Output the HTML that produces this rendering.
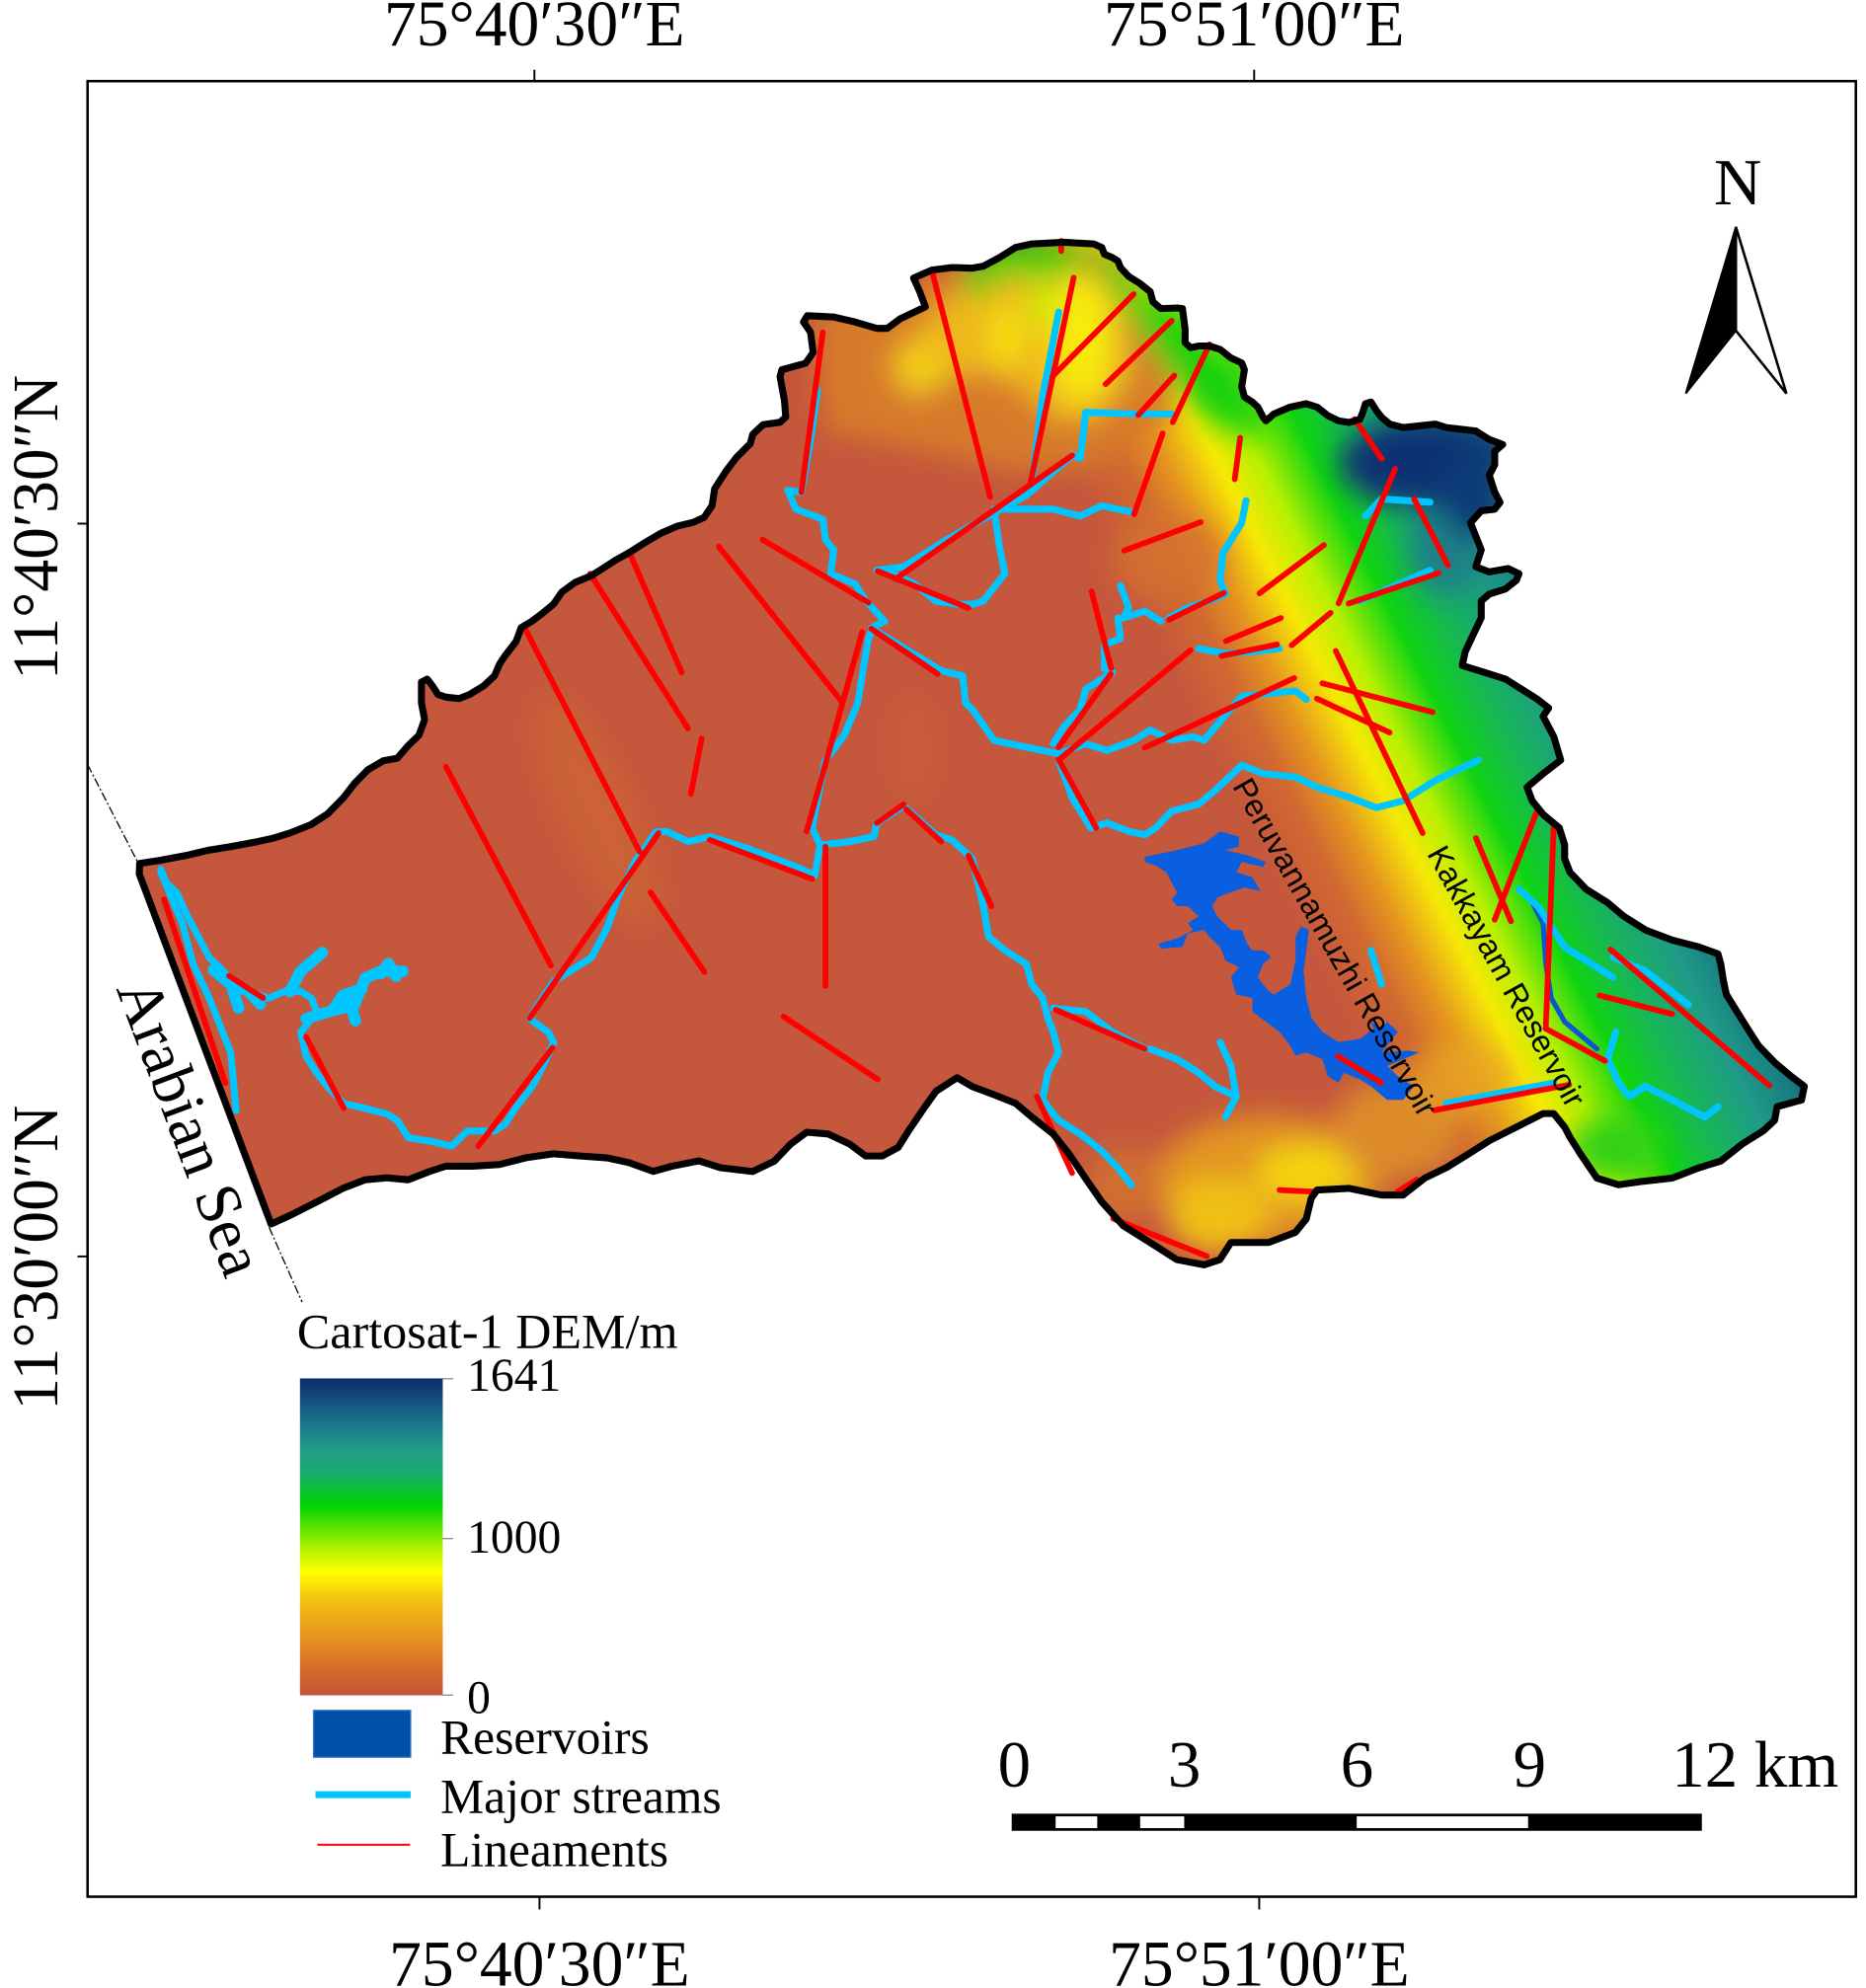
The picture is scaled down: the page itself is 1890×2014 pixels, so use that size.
<!DOCTYPE html>
<html><head><meta charset="utf-8"><style>
html,body{margin:0;padding:0;background:#fff;}
svg{display:block;}
</style></head><body>
<svg width="1890" height="2014" viewBox="0 0 1470 1568" preserveAspectRatio="none" xmlns="http://www.w3.org/2000/svg">
<defs>
<linearGradient id="elev" gradientUnits="userSpaceOnUse" x1="500.6" y1="-250.3" x2="804.6" y2="-402.3">
<stop offset="0" stop-color="#c5573d"/>
<stop offset="0.088" stop-color="#c5573d"/>
<stop offset="0.206" stop-color="#d26a30"/>
<stop offset="0.294" stop-color="#e5961f"/>
<stop offset="0.397" stop-color="#f7e806"/>
<stop offset="0.485" stop-color="#b8f000"/>
<stop offset="0.603" stop-color="#10d412"/>
<stop offset="0.721" stop-color="#18b55a"/>
<stop offset="0.838" stop-color="#1f9a88"/>
<stop offset="0.941" stop-color="#177a80"/>
<stop offset="1" stop-color="#124f78"/>
</linearGradient>
<linearGradient id="cbar" x1="0" y1="0" x2="0" y2="1">
<stop offset="0" stop-color="#0c2a6e"/>
<stop offset="0.12" stop-color="#1a6a8a"/>
<stop offset="0.22" stop-color="#1f9a88"/>
<stop offset="0.30" stop-color="#1aac70"/>
<stop offset="0.40" stop-color="#00d400"/>
<stop offset="0.53" stop-color="#a8f000"/>
<stop offset="0.61" stop-color="#ffff00"/>
<stop offset="0.70" stop-color="#f2c010"/>
<stop offset="0.80" stop-color="#e99a20"/>
<stop offset="0.90" stop-color="#d87028"/>
<stop offset="1" stop-color="#c4553c"/>
</linearGradient>
<filter id="bl" filterUnits="userSpaceOnUse" x="0" y="0" width="1470" height="1568"><feGaussianBlur stdDeviation="11"/></filter>
<path id="bnd" d="M110,681 L126.6,678.5 147.8,674.5 164.7,670.5 181.7,667.8 203,663.8 215.6,661 228.4,657 245,650.4 258,642 270.7,629 279.2,618 290,607 302,600 313,598 321.6,588 330,580 334.5,567.6 332,554.4 332,538 336.5,535.6 340.7,541 345,547.7 351,549.8 361.7,551 370,547.7 381,541 389.6,533 393.6,523.6 398,517 406.5,506 410.6,495 419,490 427.6,483.5 436,476.6 442.6,467 453,459.4 466,454 474.5,448.6 485,441.8 495.5,436 508,428 521,420.4 533.6,415 546,412 554.8,408 561,398.7 563,385.5 571.7,372 580,361 591,350 593,342.6 601,335 614.5,333 619,329 618,316 614.5,297 616,291.6 634.6,286.5 640.6,278 638.5,262 633,254 636,249 656.5,250 673.6,254 690.6,259 699,259 709,251.5 729,242 724.5,230 719.7,219.3 734,213 750,211 766,211.5 774.7,209.9 787.3,203.2 800,195.2 812.8,192.4 838.2,191.1 861.6,192.4 868,195.2 870,200.5 876.4,203.2 880.6,205.8 882.8,211.2 889.1,218 897.6,223.3 906.1,230 908.2,238 914.5,243.4 927.3,242.9 931.5,243.4 933.6,259.5 933.6,270.2 937.9,274.2 944.2,272.9 952.7,272.9 961.2,275.6 969.7,282.3 978.2,286.3 980.3,291.6 978.2,305 980.3,313.1 986.6,317.1 990.9,321.1 995.1,329.2 997.3,331.9 1003.6,326.5 1016.3,321.1 1029,318.4 1037.6,321.1 1046,327.8 1054.5,331.9 1063,333.2 1071.4,330.6 1073.6,325.2 1075.7,318.4 1080,317.1 1084.2,323.8 1088.4,329.2 1094.8,334.5 1105.4,337.2 1118.1,335.9 1130.8,334.5 1139.3,337.2 1162.6,339.9 1173.2,346.6 1183.8,350.6 1177.5,356 1177.5,366.7 1173.2,374.8 1177.5,388.2 1181.7,396.2 1177.5,401.6 1166.9,402.9 1158.4,412.3 1162.6,423 1166.9,433.7 1162.6,447 1173.2,451.1 1188,448.4 1196.6,452.5 1194.5,457.8 1186,464.5 1173.2,468.6 1166.9,474 1166.9,487.3 1160.5,500.7 1154.2,514.1 1152,524.9 1169,530.2 1186,535.6 1198.7,543.6 1211.4,551.7 1220,558.4 1215.6,565 1224,581 1229.5,599.5 1215.6,610.2 1203,620.9 1207,631.6 1215.6,642.3 1228.4,653 1232.6,666.4 1232.6,677.2 1236.8,688 1249.6,701.4 1266.5,712 1279.3,722.8 1296.3,733.5 1317.4,741.5 1338.6,747 1353.4,752.3 1355.6,760.3 1357.7,773.7 1360,784.4 1368.3,797.8 1376.7,811.3 1385.3,824.7 1398,838 1410.7,848.7 1421.4,856.8 1419.2,867.6 1400,872.9 1398,883.6 1389.5,891.6 1372.6,902.3 1355.6,915.8 1338.6,921 1317.4,929.2 1292,932 1275,934.5 1258,929.2 1245.3,910.5 1236.8,897 1232.6,889 1224,878.3 1215.6,878.3 1194.5,889 1173.2,899.7 1156.3,910.5 1139.3,921 1122.4,929.2 1105.3,942.6 1088.4,942.6 1063,937.3 1037.6,938.6 1033,945 1029,961.4 1020.5,972 999.4,980 969.7,980 961,993.5 948.5,997.6 927,993.5 906,980 884.9,966.8 868,948 855,929.2 842.4,910.5 829.7,894.4 812.8,881 800,870.2 783,863.4 766,857 754,850 737.3,860.8 728.8,872.7 716,891.5 707.6,905 695,911.8 682,911.8 669.4,902.4 652.4,894.4 635.5,893 622.8,902.4 610,915.8 593,924 567.6,921 550.6,915.6 529.4,919.8 514.6,923.9 495.4,917 478.4,913.3 457.3,911.8 436,910 415,913 393.6,918.5 372.5,919.8 351.3,919.8 338.6,923.9 321.6,930.5 304.7,929 287.7,930.5 270.7,937 249.5,948 228.4,958.7 213.5,965.4 109.7,689.3 Z"/>
<clipPath id="clip"><use href="#bnd"/></clipPath>
</defs>

<rect x="0" y="0" width="1470" height="1568" fill="#fff"/>

<g clip-path="url(#clip)">
<rect x="0" y="0" width="1470" height="1568" fill="url(#elev)"/>
<g filter="url(#bl)">
<ellipse cx="470" cy="640" rx="30" ry="100" transform="rotate(-25 470 640)" fill="#cf6634" opacity="0.7"/>
<ellipse cx="720" cy="590" rx="22" ry="45" fill="#ca5f37" opacity="0.6"/>
<ellipse cx="920" cy="440" rx="45" ry="35" fill="#d4722e" opacity="0.8"/>
<polygon points="640,250 735,215 780,200 880,195 930,260 920,330 860,370 800,372 760,362 700,350 650,340" fill="#d77a2c"/>
<polygon points="750,232 800,215 860,212 885,240 892,300 862,332 830,330 800,302 770,292 742,300 712,310 702,282 722,262" fill="#eeb81c"/>
<ellipse cx="852" cy="268" rx="24" ry="50" fill="#f8ea08"/>
<ellipse cx="793" cy="265" rx="14" ry="24" fill="#f5e010"/>
<ellipse cx="724" cy="292" rx="18" ry="18" fill="#f2d012"/>
<ellipse cx="822" cy="240" rx="12" ry="16" fill="#c8f000"/>
<ellipse cx="812" cy="204" rx="45" ry="14" fill="#28d010"/>
<ellipse cx="772" cy="220" rx="12" ry="14" fill="#40d010"/>
<polygon points="866,192 890,215 910,235 935,245 950,270 975,285 990,315 1000,335 985,345 960,335 940,320 925,300 905,270 888,245 872,220 860,200" fill="#18d010"/>
<ellipse cx="1140" cy="430" rx="30" ry="40" fill="#1a8088"/>
<ellipse cx="1120" cy="365" rx="65" ry="35" fill="#0f3373"/>
<ellipse cx="1160" cy="390" rx="25" ry="35" fill="#103a78"/>
<ellipse cx="1000" cy="930" rx="90" ry="50" fill="#e29424"/>
<ellipse cx="960" cy="958" rx="40" ry="30" fill="#f0c018"/>
<ellipse cx="1030" cy="925" rx="40" ry="22" fill="#f4d410"/>
<ellipse cx="1100" cy="890" rx="50" ry="40" fill="#dc8a2a"/>
<ellipse cx="1150" cy="850" rx="40" ry="30" fill="#e8a822" opacity="0.7"/>
<ellipse cx="885" cy="935" rx="30" ry="30" fill="#d06e33"/>
<ellipse cx="1272" cy="905" rx="35" ry="25" fill="#30d018"/>
</g>
</g>

<polygon fill="#0a5fe0" points="901.8,675.9 927.3,670.5 948.5,665.1 961.2,655.7 976,659.8 976,667.8 965.4,670.5 982.4,674.5 997.3,679.9 995.1,683.9 978.2,679.9 973.9,687.9 986.6,691.9 993,702.7 980.3,700 965.4,705.3 959.1,708 954.8,714.7 959.1,722.8 969.7,733.5 978.2,733.5 982.4,744.2 986.6,749.6 995.1,749.6 1001.5,754.9 995.1,760.3 990.9,771 999.4,781.8 1003.6,784.4 1016.3,776.4 1020.6,757.6 1020.6,738.9 1024.8,730.8 1031.2,733.5 1029.1,749.6 1026.9,765.7 1029.1,787.1 1033.3,803.2 1041.8,813.9 1054.5,821.9 1071.5,819.3 1082.1,811.2 1079.9,805.9 1088.4,811.2 1092.7,805.9 1101.2,813.9 1092.7,824.6 1088.4,830 1109.6,828.7 1118.1,830 1105.4,835.4 1092.7,840.7 1101.2,848.8 1113.9,856.8 1105.4,867.5 1092.7,867.5 1080,856.8 1071.5,851.4 1058.7,846.1 1054.5,854.1 1046,848.8 1041.8,835.4 1029.1,830 1020.6,832.7 1016.3,824.6 1007.9,813.9 997.3,805.9 986.6,797.8 986.6,787.1 973.9,784.4 969.7,771 976,763 965.4,757.6 961.2,746.9 952.7,738.9 948.5,733.5 935.8,736.2 931.5,746.9 914.6,748.2 912.4,744.2 927.3,740.2 940,733.5 935.8,728.1 944.2,722.8 935.8,714.7 927.3,714.7 923,709.4 927.3,704 923,696 918.8,687.9 910.3,682.6 901.8,679.9"/>
<polyline fill="none" stroke="#0a55d0" stroke-width="4" stroke-linejoin="round" stroke-linecap="round" points="1207.2,712 1215.6,728.1 1217.8,760.3 1222,787.1 1232.6,805.9 1258,827.3"/>

<g fill="none" stroke="#00c5ff" stroke-width="5.5" stroke-linejoin="round" stroke-linecap="round">
<polyline points="620.6,386.8 627,401.6 648.2,409.6 650.3,425.7 656.7,433.7 654.5,452.5 673.6,460.5 682.1,474 696.9,490 688.5,494.1 684.2,503.4 680,527.6 675.8,554.4 665,580 650,600 639.7,653.1 646.1,666.5 669.4,663.8 688.5,659.8 690.6,649.1 711.8,635.7 737.3,658.5 750,662.5 766,677.2 774.6,714.7 778.8,738.9 791.6,749.6 808.5,760.3 812.8,776.4 821.3,787.1 825.5,803.2 829.7,813.9 834,830 825.5,846.1 821.3,867.5 834,883.6 850.9,894.3 867.9,907.7 880.6,921.1 891.2,934.6"/>
<polyline points="646.1,666.5 641.8,690.6 631.2,685.2 588.8,669.2 559.1,659.8 542.2,663.8 525.2,655.8 516.7,656.1 499.8,680.2 487.1,707 478.6,731.2 465.9,755.3 448.9,766 436.2,774 423.5,792.8 417.1,803.5 432,814.2 436.2,822.3 427.7,841 419.2,857.1 406.5,873.2 398,886.6 389.6,892 368.3,892 355.7,904 338.7,900 321.7,897.4 313.2,884 304.8,878.6 283.6,873.2 270.8,870.5 258.1,857.1 249.6,846.4 241.1,833 236.9,814.2 243.3,806.2 249.6,798.2 245.4,787.4 236.9,782 224.2,782 211.5,787.4 196.6,782 186,776.7 173.4,763.3 164.9,755.3 156.4,739.2 147.9,723.1 139.4,704.3 130.9,696.3 126.7,685.6"/>
<polyline points="644,307.7 638,350 631.3,388.2 620.6,386.8"/>
<polyline points="690.6,449.8 711.8,447.1 724.5,439.1 745.7,425.7 766.1,414 808.5,390.8 844.6,359.2 851,361.4 853,345.3 855.2,325.2 893.3,326.5 923,326.5"/>
<polyline points="812.8,380.1 821.3,313.1 834,246.1"/>
<polyline points="783.1,401.6 829.7,401.6 851,407 867.9,398.9 893.3,404.2"/>
<polyline points="783.1,401.6 787.3,431.1 791.6,452.5 774.6,474 766.1,476.6 754.2,476.6 737.2,474 720.3,460.5 703.3,452.5 690.6,449.8"/>
<polyline points="686.4,495.4 741.5,529 758.4,533 760.6,554.4 766.1,559.7 783.1,583.9 808.5,589.3 834,594.6 855.2,586.6 872.1,591.9 893.3,583.9 906.1,575.8 923,583.9 940,581.2 948.5,583.9 978.2,549 1020.6,545 1029.1,551.7"/>
<polyline points="981.6,394.9 978.2,412.3 963.3,436.4 961.2,457.9 965.4,468.6 952.7,473.9 935.8,479.3 920.9,487.4"/>
<polyline points="882.7,461.9 889.1,479.3 884.9,487.4 901.8,482 914.5,490"/>
<polyline points="880.6,487.4 882.7,503.4 870,508.8 870,527.6 876.4,530.2 855.2,543.7 850.9,559.7 838.2,573.1 829.7,586.5"/>
<polyline points="944.2,511.5 965.4,515.5 986.6,514.2 1007.9,511.5"/>
<polyline points="1071.5,473.9 1126.6,449.8"/>
<polyline points="1075.7,406.9 1088.4,393.5 1126.6,396.2"/>
<polyline points="978.2,603.5 995.1,610.2 1020.6,612.9 1037.5,620.9 1063,628.9 1084.2,637 1105.4,631.6 1130.8,615.5 1164.8,599.45"/>
<polyline points="978.2,603.5 957,623.6 944.2,634.3 923,639.7 910.3,653.1 901.8,658.4 889.1,655.7 872.1,649 859.4,653.1 845,630 834,600"/>
<polyline points="961.2,822 969.7,840.7 973.9,864.9 965.4,880.9"/>
<polyline points="906.1,827.3 927.3,835.4 944.2,846.1 957,856.8 973.9,864.9"/>
<polyline points="829.7,795.2 855.2,797.8 876.4,813.9 901.8,827.3"/>
<polyline points="1139.3,870.2 1224.1,854.1"/>
<polyline points="1196.6,701.3 1211.4,714.7 1232.6,746.9 1253.8,760.3 1270.8,771"/>
<polyline points="1270.8,754.9 1296.2,765.7 1330.2,792.5"/>
<polyline points="1272.9,813.9 1266.5,835.4 1275,854.1 1283.5,864.9 1296.2,856.8 1317.4,867.5 1342.9,881 1353.5,872.9"/>
<polyline points="1080,749.6 1088.4,776.4"/>
<polyline points="126.7,688 143.6,728.4 152,760 164.9,787.4 181.8,830.3 186,875.9"/>
</g>
<g fill="none" stroke="#00c5ff" stroke-width="9" stroke-linejoin="round" stroke-linecap="round">
<polyline points="241.1,803.5 262,797 279.2,792.8 287.7,771.4 300.4,766 317.4,766"/>
<polyline points="228.4,782 236.9,766 253.9,751.3"/>
<polyline points="168,765 180,775 196,782 205,792"/>
<polyline points="262,797 270,785 285,780"/>
<polyline points="275,790 280,805"/>
<polyline points="300,768 306,760 312,770"/>
<polyline points="183,780 188,795"/>
</g>

<g stroke="#ff0000" stroke-width="4.5" stroke-linecap="round" fill="none">
<line x1="734" y1="213" x2="780" y2="392"/>
<line x1="845.8" y1="219" x2="811.9" y2="380"/>
<line x1="893" y1="232" x2="829" y2="297"/>
<line x1="923" y1="253" x2="871" y2="303"/>
<line x1="952.8" y1="271.6" x2="923.9" y2="333"/>
<line x1="925.1" y1="296.2" x2="896.7" y2="327.3"/>
<line x1="915.9" y1="341.9" x2="893.4" y2="405.6"/>
<line x1="977" y1="345.3" x2="972.7" y2="378"/>
<line x1="844.6" y1="359.2" x2="705.5" y2="456.7"/>
<line x1="945.9" y1="411.8" x2="885.6" y2="434.3"/>
<line x1="1067.2" y1="330.6" x2="1088.5" y2="361.9"/>
<line x1="1099" y1="369.9" x2="1054.5" y2="475.9"/>
<line x1="1114" y1="393.5" x2="1140.6" y2="445.8"/>
<line x1="1043" y1="429.9" x2="992.2" y2="468"/>
<line x1="964.2" y1="467.6" x2="921" y2="488.8"/>
<line x1="1133.2" y1="452" x2="1062.4" y2="476"/>
<line x1="1009" y1="487.4" x2="965.7" y2="505.6"/>
<line x1="1048.2" y1="483.4" x2="1017.6" y2="508.9"/>
<line x1="1006" y1="508.3" x2="962.2" y2="517.4"/>
<line x1="937.9" y1="512.8" x2="834" y2="599.5"/>
<line x1="875" y1="531.6" x2="834" y2="589.3"/>
<line x1="860" y1="466.5" x2="875.3" y2="527"/>
<line x1="1019.6" y1="534.8" x2="901.7" y2="589.8"/>
<line x1="1052.3" y1="513.4" x2="1120.7" y2="657.1"/>
<line x1="1041.7" y1="538.9" x2="1128.6" y2="561.7"/>
<line x1="1037.4" y1="551" x2="1094.7" y2="577.8"/>
<line x1="834" y1="599" x2="863.6" y2="653.1"/>
<line x1="763" y1="675" x2="781" y2="714.8"/>
<line x1="831.8" y1="796.5" x2="901.7" y2="827.3"/>
<line x1="816.9" y1="864.9" x2="844.6" y2="925.2"/>
<line x1="877" y1="961.3" x2="950.6" y2="990.8"/>
<line x1="969.7" y1="980" x2="999.4" y2="980"/>
<line x1="1008" y1="938.6" x2="1035.5" y2="940"/>
<line x1="1101" y1="939.9" x2="1116" y2="930.5"/>
<line x1="1130" y1="875.7" x2="1236.2" y2="855.6"/>
<line x1="1162.7" y1="661" x2="1190.3" y2="726.7"/>
<line x1="1177.5" y1="725.4" x2="1211.4" y2="638.3"/>
<line x1="1224" y1="651.7" x2="1217.7" y2="811.3"/>
<line x1="1217.7" y1="811.3" x2="1264.4" y2="836.7"/>
<line x1="1268.7" y1="748.9" x2="1393.8" y2="856.2"/>
<line x1="1260.2" y1="785.1" x2="1317.4" y2="799.8"/>
<line x1="1054" y1="833" x2="1088" y2="854"/>
<line x1="648.2" y1="262.2" x2="631.3" y2="388.2"/>
<line x1="600.7" y1="425.7" x2="684.2" y2="475.3"/>
<line x1="566.2" y1="431.1" x2="662.9" y2="553.1"/>
<line x1="495.5" y1="435.1" x2="537" y2="530.3"/>
<line x1="464.9" y1="452.5" x2="542" y2="574.5"/>
<line x1="412.8" y1="494.1" x2="503.9" y2="671.8"/>
<line x1="552.8" y1="582.5" x2="544.2" y2="626.3"/>
<line x1="679.2" y1="498.6" x2="635.5" y2="655.8"/>
<line x1="686.4" y1="495.9" x2="738.6" y2="531.5"/>
<line x1="691.5" y1="450.5" x2="762.8" y2="479.5"/>
<line x1="351.3" y1="604.8" x2="434" y2="761.6"/>
<line x1="518.8" y1="657.1" x2="417.1" y2="803.2"/>
<line x1="512.5" y1="703.8" x2="554.9" y2="766.7"/>
<line x1="559.2" y1="662.5" x2="639.8" y2="693.3"/>
<line x1="650.3" y1="667.8" x2="650.3" y2="777.7"/>
<line x1="690.6" y1="649.1" x2="711.8" y2="634.4"/>
<line x1="714" y1="638.4" x2="741.5" y2="663.8"/>
<line x1="617.3" y1="801.8" x2="691.5" y2="851.4"/>
<line x1="435.3" y1="826.3" x2="376.8" y2="904.1"/>
<line x1="241.1" y1="817.8" x2="270.8" y2="874.1"/>
<line x1="180.5" y1="769.7" x2="207.2" y2="787.1"/>
<line x1="129.2" y1="709.4" x2="177.5" y2="854.2"/>
<line x1="836" y1="190" x2="836" y2="198"/>
</g>

<use href="#bnd" fill="none" stroke="#000" stroke-width="5.5" stroke-linejoin="round"/>

<g stroke="#000" stroke-width="1" stroke-dasharray="7 2 1.5 2" fill="none">
<line x1="69" y1="603" x2="110" y2="683"/>
<line x1="212" y1="968" x2="238" y2="1027"/>
</g>

<text transform="translate(1044.4,751.3) rotate(60.6)" text-anchor="middle" font-family="'Liberation Sans', Arial, sans-serif" font-size="25" fill="#000">Peruvannamuzhi Reservoir</text>
<text transform="translate(1179.3,774.2) rotate(61.2)" text-anchor="middle" font-family="'Liberation Sans', Arial, sans-serif" font-size="25" fill="#000">Kakkayam Reservoir</text>
<text transform="translate(134.6,894.8) rotate(69.4)" text-anchor="middle" font-family="'Liberation Serif', serif" font-size="50" fill="#000">Arabian Sea</text>

<rect x="69" y="64" width="1393" height="1432" fill="none" stroke="#000" stroke-width="2"/>
<g stroke="#000" stroke-width="1.5">
<line x1="421" y1="55" x2="421" y2="64"/>
<line x1="988" y1="55" x2="988" y2="64"/>
<line x1="425" y1="1496" x2="425" y2="1506"/>
<line x1="992" y1="1496" x2="992" y2="1506"/>
<line x1="61" y1="413" x2="69" y2="413"/>
<line x1="61" y1="991" x2="69" y2="991"/>
</g>

<g font-family="'Liberation Serif', serif" fill="#000" font-size="51" text-anchor="middle">
<text x="421" y="36">75°40′30″E</text>
<text x="988" y="36">75°51′00″E</text>
<text x="425" y="1566">75°40′30″E</text>
<text x="992" y="1566">75°51′00″E</text>
<text transform="translate(45,416) rotate(-90)">11°40′30″N</text>
<text transform="translate(45,992) rotate(-90)">11°30′00″N</text>
</g>

<text x="1369" y="161" font-family="'Liberation Serif', serif" font-size="52" text-anchor="middle" fill="#000">N</text>
<polygon points="1367.5,179 1407.3,310.4 1367.5,260.8" fill="#fff" stroke="#000" stroke-width="2"/>
<polygon points="1367.5,179 1328,310.4 1367.5,260.8" fill="#000" stroke="#000" stroke-width="1.5"/>

<g font-family="'Liberation Serif', serif" fill="#000">
<text x="234" y="1063" font-size="39">Cartosat-1 DEM/m</text>
<rect x="236.3" y="1087.2" width="112.5" height="250" fill="url(#cbar)"/>
<g stroke="#888" stroke-width="1">
<line x1="348.8" y1="1087.5" x2="357" y2="1087.5"/>
<line x1="348.8" y1="1213.5" x2="357" y2="1213.5"/>
<line x1="348.8" y1="1337" x2="357" y2="1337"/>
</g>
<text x="368" y="1097" font-size="37">1641</text>
<text x="368" y="1224.5" font-size="37">1000</text>
<text x="368" y="1351" font-size="37">0</text>
<rect x="247" y="1349" width="76.5" height="37" fill="#0050aa" stroke="#3a78c8" stroke-width="1"/>
<text x="347" y="1383" font-size="38.5">Reservoirs</text>
<line x1="248.5" y1="1415.5" x2="323.5" y2="1415.5" stroke="#00c5ff" stroke-width="5.5"/>
<text x="347" y="1430" font-size="38.5">Major streams</text>
<line x1="250" y1="1455" x2="323" y2="1455" stroke="#ff0000" stroke-width="1.5"/>
<text x="347" y="1472" font-size="38.5">Lineaments</text>
</g>

<g font-family="'Liberation Serif', serif" fill="#000" font-size="52">
<text x="799" y="1409" text-anchor="middle">0</text>
<text x="933" y="1409" text-anchor="middle">3</text>
<text x="1069" y="1409" text-anchor="middle">6</text>
<text x="1205" y="1409" text-anchor="middle">9</text>
<text x="1317" y="1409">12 km</text>
</g>
<rect x="797" y="1430.5" width="543.7" height="13.5" fill="#000"/>
<rect x="831.6" y="1432.6" width="32.8" height="9.3" fill="#fff"/>
<rect x="898.2" y="1432.6" width="34.7" height="9.3" fill="#fff"/>
<rect x="1068.8" y="1432.6" width="135" height="9.3" fill="#fff"/>
</svg>
</body></html>
